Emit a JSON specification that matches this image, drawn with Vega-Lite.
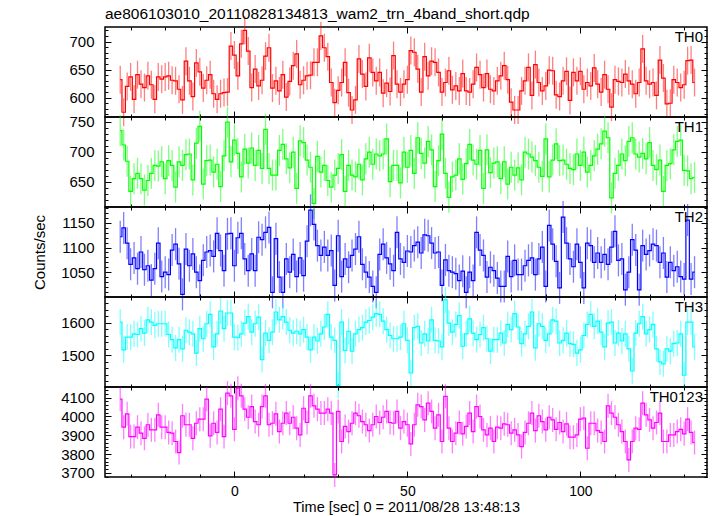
{
"$schema": "https://vega.github.io/schema/vega-lite/v6.json",
"padding": {"left": 31, "top": 6, "right": 9, "bottom": 1},
"background": "white",
"spacing": 0,
"bounds": "flush",
"data": {"values": [
{"t":-33,"a":632,"b":735,"c":1122,"d":1602,"e":4092},
{"t":-32,"a":574,"b":711,"c":1140,"d":1517,"e":3943},
{"t":-31,"a":620,"b":684,"c":1109,"d":1556,"e":4014},
{"t":-30,"a":637,"b":634,"c":1066,"d":1556,"e":3893},
{"t":-29,"a":597,"b":655,"c":1079,"d":1566,"e":3893},
{"t":-28,"a":641,"b":664,"c":1057,"d":1564,"e":3943},
{"t":-27,"a":624,"b":655,"c":1091,"d":1582,"e":3911},
{"t":-26,"a":618,"b":636,"c":1055,"d":1568,"e":3884},
{"t":-25,"a":639,"b":652,"c":1063,"d":1609,"e":3956},
{"t":-24,"a":623,"b":664,"c":1034,"d":1602,"e":3929},
{"t":-23,"a":597,"b":677,"c":1057,"d":1592,"e":3929},
{"t":-22,"a":637,"b":676,"c":1109,"d":1597,"e":4009},
{"t":-21,"a":633,"b":683,"c":1041,"d":1597,"e":3943},
{"t":-20,"a":637,"b":655,"c":1050,"d":1597,"e":3943},
{"t":-19,"a":639,"b":685,"c":1045,"d":1564,"e":3915},
{"t":-18,"a":631,"b":677,"c":1095,"d":1548,"e":3911},
{"t":-17,"a":630,"b":641,"c":1107,"d":1523,"e":3867},
{"t":-16,"a":615,"b":683,"c":1067,"d":1548,"e":3808},
{"t":-15,"a":596,"b":677,"c":1005,"d":1520,"e":4004},
{"t":-14,"a":665,"b":695,"c":1097,"d":1577,"e":3956},
{"t":-13,"a":630,"b":696,"c":1063,"d":1571,"e":3956},
{"t":-12,"a":602,"b":653,"c":1087,"d":1566,"e":3884},
{"t":-11,"a":662,"b":714,"c":1050,"d":1507,"e":3964},
{"t":-10,"a":646,"b":742,"c":1033,"d":1582,"e":3986},
{"t":-9,"a":617,"b":646,"c":1074,"d":1551,"e":3986},
{"t":-8,"a":631,"b":685,"c":1091,"d":1597,"e":4092},
{"t":-7,"a":641,"b":686,"c":1094,"d":1626,"e":3897},
{"t":-6,"a":607,"b":666,"c":1082,"d":1526,"e":3964},
{"t":-5,"a":597,"b":679,"c":1129,"d":1566,"e":3915},
{"t":-4,"a":607,"b":642,"c":1094,"d":1636,"e":4039},
{"t":-3,"a":609,"b":693,"c":1053,"d":1582,"e":3893},
{"t":-2,"a":610,"b":749,"c":1128,"d":1630,"e":4124},
{"t":-1,"a":692,"b":683,"c":1129,"d":1630,"e":4110},
{"t":0,"a":676,"b":719,"c":1063,"d":1556,"e":3932},
{"t":1,"a":639,"b":697,"c":1120,"d":1554,"e":4151},
{"t":2,"a":696,"b":658,"c":1129,"d":1566,"e":4110},
{"t":3,"a":720,"b":704,"c":1077,"d":1599,"e":4039},
{"t":4,"a":683,"b":681,"c":1053,"d":1619,"e":3996},
{"t":5,"a":618,"b":706,"c":1087,"d":1571,"e":4053},
{"t":6,"a":651,"b":677,"c":1053,"d":1597,"e":3973},
{"t":7,"a":621,"b":702,"c":1121,"d":1617,"e":3956},
{"t":8,"a":631,"b":672,"c":1116,"d":1487,"e":4053},
{"t":9,"a":674,"b":737,"c":1131,"d":1568,"e":4110},
{"t":10,"a":689,"b":672,"c":1141,"d":1546,"e":3956},
{"t":11,"a":617,"b":661,"c":1009,"d":1571,"e":3964},
{"t":12,"a":630,"b":661,"c":1118,"d":1633,"e":4014},
{"t":13,"a":612,"b":702,"c":1040,"d":1609,"e":3920},
{"t":14,"a":641,"b":712,"c":1009,"d":1619,"e":3964},
{"t":15,"a":601,"b":688,"c":1077,"d":1602,"e":4018},
{"t":16,"a":629,"b":673,"c":1050,"d":1577,"e":3964},
{"t":17,"a":657,"b":699,"c":1086,"d":1568,"e":3996},
{"t":18,"a":678,"b":639,"c":1041,"d":1574,"e":3938},
{"t":19,"a":623,"b":718,"c":1079,"d":1566,"e":3902},
{"t":20,"a":631,"b":715,"c":1043,"d":1579,"e":4044},
{"t":21,"a":639,"b":686,"c":1113,"d":1556,"e":3968},
{"t":22,"a":640,"b":674,"c":1176,"d":1517,"e":4110},
{"t":23,"a":663,"b":614,"c":1147,"d":1556,"e":4057},
{"t":24,"a":663,"b":692,"c":1104,"d":1544,"e":4039},
{"t":25,"a":710,"b":666,"c":1084,"d":1566,"e":4018},
{"t":26,"a":689,"b":677,"c":1101,"d":1587,"e":4018},
{"t":27,"a":673,"b":652,"c":1084,"d":1626,"e":4039},
{"t":28,"a":627,"b":641,"c":1094,"d":1556,"e":4018},
{"t":29,"a":591,"b":661,"c":1023,"d":1546,"e":3689},
{"t":30,"a":613,"b":672,"c":1124,"d":1408,"e":4027},
{"t":31,"a":627,"b":695,"c":1041,"d":1602,"e":3867},
{"t":32,"a":663,"b":634,"c":1077,"d":1515,"e":3947},
{"t":33,"a":609,"b":677,"c":1060,"d":1574,"e":3920},
{"t":34,"a":578,"b":661,"c":1084,"d":1513,"e":3964},
{"t":35,"a":596,"b":658,"c":1097,"d":1566,"e":4018},
{"t":36,"a":669,"b":679,"c":1122,"d":1579,"e":4004},
{"t":37,"a":642,"b":653,"c":1066,"d":1585,"e":3973},
{"t":38,"a":620,"b":688,"c":1050,"d":1602,"e":3956},
{"t":39,"a":671,"b":699,"c":1040,"d":1607,"e":3925},
{"t":40,"a":645,"b":679,"c":1021,"d":1617,"e":3956},
{"t":41,"a":630,"b":696,"c":1009,"d":1628,"e":4000},
{"t":42,"a":645,"b":693,"c":1086,"d":1626,"e":3968},
{"t":43,"a":608,"b":696,"c":1107,"d":1605,"e":3996},
{"t":44,"a":626,"b":721,"c":1079,"d":1579,"e":4027},
{"t":45,"a":611,"b":650,"c":1067,"d":1561,"e":3968},
{"t":46,"a":675,"b":677,"c":1053,"d":1551,"e":3964},
{"t":47,"a":624,"b":677,"c":1131,"d":1551,"e":4027},
{"t":48,"a":610,"b":648,"c":1077,"d":1556,"e":3938},
{"t":49,"a":624,"b":699,"c":1070,"d":1597,"e":3973},
{"t":50,"a":632,"b":674,"c":1093,"d":1546,"e":3956},
{"t":51,"a":684,"b":702,"c":1091,"d":1446,"e":3854},
{"t":52,"a":681,"b":664,"c":1104,"d":1585,"e":3956},
{"t":53,"a":651,"b":723,"c":1111,"d":1589,"e":4062},
{"t":54,"a":610,"b":697,"c":1089,"d":1538,"e":4053},
{"t":55,"a":673,"b":681,"c":1126,"d":1566,"e":3982},
{"t":56,"a":639,"b":717,"c":1124,"d":1544,"e":4071},
{"t":57,"a":665,"b":703,"c":1109,"d":1609,"e":4027},
{"t":58,"a":663,"b":642,"c":1089,"d":1546,"e":3938},
{"t":59,"a":645,"b":685,"c":1091,"d":1544,"e":4009},
{"t":60,"a":610,"b":729,"c":1023,"d":1526,"e":3867},
{"t":61,"a":627,"b":664,"c":1075,"d":1670,"e":4107},
{"t":62,"a":648,"b":624,"c":1053,"d":1599,"e":3938},
{"t":63,"a":614,"b":658,"c":1050,"d":1571,"e":3867},
{"t":64,"a":621,"b":661,"c":1047,"d":1595,"e":3911},
{"t":65,"a":612,"b":688,"c":1033,"d":1622,"e":3968},
{"t":66,"a":643,"b":654,"c":1052,"d":1528,"e":3908},
{"t":67,"a":612,"b":680,"c":1009,"d":1566,"e":3947},
{"t":68,"a":610,"b":712,"c":1050,"d":1612,"e":4018},
{"t":69,"a":624,"b":686,"c":1033,"d":1568,"e":3920},
{"t":70,"a":654,"b":679,"c":1131,"d":1548,"e":4053},
{"t":71,"a":641,"b":702,"c":1095,"d":1564,"e":4000},
{"t":72,"a":618,"b":639,"c":1084,"d":1585,"e":3929},
{"t":73,"a":643,"b":703,"c":1040,"d":1551,"e":3902},
{"t":74,"a":615,"b":665,"c":1060,"d":1513,"e":3938},
{"t":75,"a":612,"b":681,"c":1053,"d":1548,"e":3867},
{"t":76,"a":630,"b":683,"c":1038,"d":1548,"e":3943},
{"t":77,"a":639,"b":655,"c":1021,"d":1568,"e":3938},
{"t":78,"a":657,"b":683,"c":1021,"d":1538,"e":3961},
{"t":79,"a":632,"b":646,"c":1082,"d":1595,"e":3956},
{"t":80,"a":592,"b":674,"c":1041,"d":1579,"e":3911},
{"t":81,"a":578,"b":661,"c":1074,"d":1628,"e":3929},
{"t":82,"a":578,"b":673,"c":1045,"d":1587,"e":3902},
{"t":83,"a":612,"b":653,"c":1045,"d":1536,"e":3840},
{"t":84,"a":630,"b":699,"c":1063,"d":1566,"e":3915},
{"t":85,"a":654,"b":696,"c":1074,"d":1589,"e":3964},
{"t":86,"a":604,"b":691,"c":1079,"d":1633,"e":4018},
{"t":87,"a":659,"b":685,"c":1045,"d":1523,"e":3925},
{"t":88,"a":627,"b":674,"c":1077,"d":1597,"e":4004},
{"t":89,"a":612,"b":659,"c":1101,"d":1589,"e":3973},
{"t":90,"a":621,"b":721,"c":1021,"d":1546,"e":3929},
{"t":91,"a":649,"b":658,"c":1145,"d":1566,"e":3996},
{"t":92,"a":648,"b":686,"c":1107,"d":1609,"e":3982},
{"t":93,"a":605,"b":713,"c":1072,"d":1605,"e":3932},
{"t":94,"a":602,"b":685,"c":1018,"d":1538,"e":3968},
{"t":95,"a":630,"b":686,"c":1162,"d":1546,"e":3920},
{"t":96,"a":647,"b":679,"c":1109,"d":1568,"e":3961},
{"t":97,"a":595,"b":672,"c":1077,"d":1536,"e":3890},
{"t":98,"a":645,"b":670,"c":1061,"d":1534,"e":3890},
{"t":99,"a":630,"b":696,"c":1107,"d":1507,"e":3902},
{"t":100,"a":647,"b":677,"c":1070,"d":1517,"e":3986},
{"t":101,"a":615,"b":699,"c":1018,"d":1561,"e":3991},
{"t":102,"a":627,"b":666,"c":1109,"d":1595,"e":3831},
{"t":103,"a":621,"b":677,"c":1104,"d":1626,"e":3964},
{"t":104,"a":653,"b":693,"c":1070,"d":1589,"e":3964},
{"t":105,"a":624,"b":704,"c":1089,"d":1605,"e":3925},
{"t":106,"a":610,"b":713,"c":1070,"d":1571,"e":3915},
{"t":107,"a":641,"b":734,"c":1086,"d":1526,"e":3867},
{"t":108,"a":615,"b":723,"c":1066,"d":1599,"e":4057},
{"t":109,"a":583,"b":623,"c":1101,"d":1602,"e":4018},
{"t":110,"a":632,"b":664,"c":1133,"d":1538,"e":3996},
{"t":111,"a":629,"b":677,"c":1074,"d":1568,"e":3956},
{"t":112,"a":627,"b":696,"c":1077,"d":1544,"e":3920},
{"t":113,"a":642,"b":685,"c":1014,"d":1566,"e":3867},
{"t":114,"a":630,"b":717,"c":1050,"d":1520,"e":3769},
{"t":115,"a":624,"b":723,"c":1116,"d":1452,"e":3867},
{"t":116,"a":607,"b":696,"c":1095,"d":1568,"e":3938},
{"t":117,"a":627,"b":691,"c":1014,"d":1597,"e":3932},
{"t":118,"a":687,"b":697,"c":1104,"d":1619,"e":4071},
{"t":119,"a":630,"b":688,"c":1086,"d":1566,"e":4009},
{"t":120,"a":624,"b":715,"c":1094,"d":1579,"e":3982},
{"t":121,"a":627,"b":677,"c":1107,"d":1595,"e":3938},
{"t":122,"a":604,"b":670,"c":1104,"d":1520,"e":3968},
{"t":123,"a":667,"b":686,"c":1070,"d":1480,"e":4018},
{"t":124,"a":635,"b":634,"c":1089,"d":1474,"e":3867},
{"t":125,"a":589,"b":677,"c":1040,"d":1520,"e":3867},
{"t":126,"a":590,"b":680,"c":1070,"d":1513,"e":3902},
{"t":127,"a":632,"b":703,"c":1053,"d":1536,"e":3902},
{"t":128,"a":627,"b":717,"c":1061,"d":1538,"e":3920},
{"t":129,"a":618,"b":719,"c":1041,"d":1566,"e":3932},
{"t":130,"a":623,"b":669,"c":1036,"d":1439,"e":3908},
{"t":131,"a":666,"b":668,"c":1156,"d":1602,"e":3986},
{"t":132,"a":667,"b":655,"c":1036,"d":1602,"e":3915},
{"t":133,"a":627,"b":657,"c":1050,"d":1526,"e":3861}
]},
"config": {
  "font": "Liberation Sans",
  "view": {"stroke": "#000", "strokeWidth": 1.5},
  "axis": {"domain": false, "grid": false, "tickColor": "#000", "tickWidth": 1, "labelFont": "Liberation Sans", "labelFontSize": 15, "labelColor": "#000", "titleFont": "Liberation Sans", "titleFontSize": 15, "titleFontWeight": "normal", "titleColor": "#000", "labelOverlap": false, "labelBound": false, "labelFlush": false}
},
"vconcat": [
{
 "width": 602, "height": 90,
 "title": {"text": "ae806103010_20110828134813_wam2_trn_4band_short.qdp", "anchor": "start", "frame": "group", "fontSize": 15.5, "fontWeight": "normal", "font": "Liberation Sans", "color": "#000", "offset": -6},
 "layer": [
  {"mark": {"type": "tick", "orient": "vertical", "color": "#ff0000", "opacity": 0.5, "size": 28, "thickness": 1.3},
   "encoding": {
    "x": {"field": "t", "type": "quantitative", "scale": {"domain": [-37.4, 136.6], "nice": false, "zero": false}, "axis": {"orient": "bottom", "values": [-30,-20,-10,10,20,30,40,60,70,80,90,110,120,130], "tickSize": -3, "labels": false, "title": null}},
    "y": {"field": "a", "type": "quantitative", "scale": {"domain": [565.5, 726], "nice": false, "zero": false}, "axis": {"orient": "left", "values": [570,580,590,610,620,630,640,660,670,680,690,710,720], "tickSize": -3, "labels": false, "title": null}}
   }},
  {"mark": {"type": "line", "interpolate": "step", "color": "#ff0000", "strokeWidth": 1.2},
   "encoding": {
    "x": {"field": "t", "type": "quantitative", "scale": {"domain": [-37.4, 136.6], "nice": false, "zero": false}, "axis": {"orient": "top", "values": [-30,-20,-10,10,20,30,40,60,70,80,90,110,120,130], "tickSize": -3, "labels": false, "title": null}},
    "y": {"field": "a", "type": "quantitative", "scale": {"domain": [565.5, 726], "nice": false, "zero": false}, "axis": {"orient": "right", "values": [570,580,590,610,620,630,640,660,670,680,690,710,720], "tickSize": -3, "labels": false, "title": null}}
   }},
  {"mark": {"type": "line", "opacity": 0},
   "encoding": {
    "x": {"field": "t", "type": "quantitative", "scale": {"domain": [-37.4, 136.6], "nice": false, "zero": false}, "axis": {"orient": "bottom", "values": [0,50,100], "tickSize": -6, "labels": false, "title": null}},
    "y": {"field": "a", "type": "quantitative", "scale": {"domain": [565.5, 726], "nice": false, "zero": false}, "axis": {"orient": "left", "values": [600,650,700], "format": "d", "tickSize": -6, "labelPadding": 17, "title": null}}
   }},
  {"mark": {"type": "line", "opacity": 0},
   "encoding": {
    "x": {"field": "t", "type": "quantitative", "scale": {"domain": [-37.4, 136.6], "nice": false, "zero": false}, "axis": {"orient": "top", "values": [0,50,100], "tickSize": -6, "labels": false, "title": null}},
    "y": {"field": "a", "type": "quantitative", "scale": {"domain": [565.5, 726], "nice": false, "zero": false}, "axis": {"orient": "right", "values": [600,650,700], "tickSize": -6, "labels": false, "title": null}}
   }},
  {"data": {"values": [{}]},
   "mark": {"type": "text", "text": "TH0", "align": "right", "baseline": "top", "fontSize": 15, "dx": -4, "dy": 3, "color": "#000"},
   "encoding": {"x": {"datum": 136.6, "type": "quantitative", "axis": null}, "y": {"datum": 726, "type": "quantitative", "axis": null}}}
 ],
 "resolve": {"axis": {"x": "independent", "y": "independent"}}
},
{
 "width": 602, "height": 90,
 "layer": [
  {"mark": {"type": "tick", "orient": "vertical", "color": "#00ff00", "opacity": 0.5, "size": 31, "thickness": 1.3},
   "encoding": {
    "x": {"field": "t", "type": "quantitative", "scale": {"domain": [-37.4, 136.6], "nice": false, "zero": false}, "axis": {"orient": "bottom", "values": [-30,-20,-10,10,20,30,40,60,70,80,90,110,120,130], "tickSize": -3, "labels": false, "title": null}},
    "y": {"field": "b", "type": "quantitative", "scale": {"domain": [608, 757.5], "nice": false, "zero": false}, "axis": {"orient": "left", "values": [610,620,630,640,660,670,680,690,710,720,730,740], "tickSize": -3, "labels": false, "title": null}}
   }},
  {"mark": {"type": "line", "interpolate": "step", "color": "#00ff00", "strokeWidth": 1.2},
   "encoding": {
    "x": {"field": "t", "type": "quantitative", "scale": {"domain": [-37.4, 136.6], "nice": false, "zero": false}, "axis": {"orient": "top", "values": [-30,-20,-10,10,20,30,40,60,70,80,90,110,120,130], "tickSize": -3, "labels": false, "title": null}},
    "y": {"field": "b", "type": "quantitative", "scale": {"domain": [608, 757.5], "nice": false, "zero": false}, "axis": {"orient": "right", "values": [610,620,630,640,660,670,680,690,710,720,730,740], "tickSize": -3, "labels": false, "title": null}}
   }},
  {"mark": {"type": "line", "opacity": 0},
   "encoding": {
    "x": {"field": "t", "type": "quantitative", "scale": {"domain": [-37.4, 136.6], "nice": false, "zero": false}, "axis": {"orient": "bottom", "values": [0,50,100], "tickSize": -6, "labels": false, "title": null}},
    "y": {"field": "b", "type": "quantitative", "scale": {"domain": [608, 757.5], "nice": false, "zero": false}, "axis": {"orient": "left", "values": [650,700,750], "format": "d", "tickSize": -6, "labelPadding": 17, "title": null}}
   }},
  {"mark": {"type": "line", "opacity": 0},
   "encoding": {
    "x": {"field": "t", "type": "quantitative", "scale": {"domain": [-37.4, 136.6], "nice": false, "zero": false}, "axis": {"orient": "top", "values": [0,50,100], "tickSize": -6, "labels": false, "title": null}},
    "y": {"field": "b", "type": "quantitative", "scale": {"domain": [608, 757.5], "nice": false, "zero": false}, "axis": {"orient": "right", "values": [650,700,750], "tickSize": -6, "labels": false, "title": null}}
   }},
  {"data": {"values": [{}]},
   "mark": {"type": "text", "text": "TH1", "align": "right", "baseline": "top", "fontSize": 15, "dx": -4, "dy": 3, "color": "#000"},
   "encoding": {"x": {"datum": 136.6, "type": "quantitative", "axis": null}, "y": {"datum": 757.5, "type": "quantitative", "axis": null}}}
 ],
 "resolve": {"axis": {"x": "independent", "y": "independent"}}
},
{
 "width": 602, "height": 90,
 "layer": [
  {"mark": {"type": "tick", "orient": "vertical", "color": "#0000ff", "opacity": 0.5, "size": 32, "thickness": 1.3},
   "encoding": {
    "x": {"field": "t", "type": "quantitative", "scale": {"domain": [-37.4, 136.6], "nice": false, "zero": false}, "axis": {"orient": "bottom", "values": [-30,-20,-10,10,20,30,40,60,70,80,90,110,120,130], "tickSize": -3, "labels": false, "title": null}},
    "y": {"field": "c", "type": "quantitative", "scale": {"domain": [999.5, 1182.5], "nice": false, "zero": false}, "axis": {"orient": "left", "values": [1010,1020,1030,1040,1060,1070,1080,1090,1110,1120,1130,1140,1160,1170,1180], "tickSize": -3, "labels": false, "title": null}}
   }},
  {"mark": {"type": "line", "interpolate": "step", "color": "#0000ff", "strokeWidth": 1.2},
   "encoding": {
    "x": {"field": "t", "type": "quantitative", "scale": {"domain": [-37.4, 136.6], "nice": false, "zero": false}, "axis": {"orient": "top", "values": [-30,-20,-10,10,20,30,40,60,70,80,90,110,120,130], "tickSize": -3, "labels": false, "title": null}},
    "y": {"field": "c", "type": "quantitative", "scale": {"domain": [999.5, 1182.5], "nice": false, "zero": false}, "axis": {"orient": "right", "values": [1010,1020,1030,1040,1060,1070,1080,1090,1110,1120,1130,1140,1160,1170,1180], "tickSize": -3, "labels": false, "title": null}}
   }},
  {"mark": {"type": "line", "opacity": 0},
   "encoding": {
    "x": {"field": "t", "type": "quantitative", "scale": {"domain": [-37.4, 136.6], "nice": false, "zero": false}, "axis": {"orient": "bottom", "values": [0,50,100], "tickSize": -6, "labels": false, "title": null}},
    "y": {"field": "c", "type": "quantitative", "scale": {"domain": [999.5, 1182.5], "nice": false, "zero": false}, "axis": {"orient": "left", "values": [1050,1100,1150], "format": "d", "tickSize": -6, "labelPadding": 17, "title": "Counts/sec", "titlePadding": 13}}
   }},
  {"mark": {"type": "line", "opacity": 0},
   "encoding": {
    "x": {"field": "t", "type": "quantitative", "scale": {"domain": [-37.4, 136.6], "nice": false, "zero": false}, "axis": {"orient": "top", "values": [0,50,100], "tickSize": -6, "labels": false, "title": null}},
    "y": {"field": "c", "type": "quantitative", "scale": {"domain": [999.5, 1182.5], "nice": false, "zero": false}, "axis": {"orient": "right", "values": [1050,1100,1150], "tickSize": -6, "labels": false, "title": null}}
   }},
  {"data": {"values": [{}]},
   "mark": {"type": "text", "text": "TH2", "align": "right", "baseline": "top", "fontSize": 15, "dx": -4, "dy": 3, "color": "#000"},
   "encoding": {"x": {"datum": 136.6, "type": "quantitative", "axis": null}, "y": {"datum": 1182.5, "type": "quantitative", "axis": null}}}
 ],
 "resolve": {"axis": {"x": "independent", "y": "independent"}}
},
{
 "width": 602, "height": 90,
 "layer": [
  {"mark": {"type": "tick", "orient": "vertical", "color": "#00ffff", "opacity": 0.5, "size": 26, "thickness": 1.3},
   "encoding": {
    "x": {"field": "t", "type": "quantitative", "scale": {"domain": [-37.4, 136.6], "nice": false, "zero": false}, "axis": {"orient": "bottom", "values": [-30,-20,-10,10,20,30,40,60,70,80,90,110,120,130], "tickSize": -3, "labels": false, "title": null}},
    "y": {"field": "d", "type": "quantitative", "scale": {"domain": [1403, 1679], "nice": false, "zero": false}, "axis": {"orient": "left", "values": [1420,1440,1460,1480,1520,1540,1560,1580,1620,1640,1660], "tickSize": -3, "labels": false, "title": null}}
   }},
  {"mark": {"type": "line", "interpolate": "step", "color": "#00ffff", "strokeWidth": 1.2},
   "encoding": {
    "x": {"field": "t", "type": "quantitative", "scale": {"domain": [-37.4, 136.6], "nice": false, "zero": false}, "axis": {"orient": "top", "values": [-30,-20,-10,10,20,30,40,60,70,80,90,110,120,130], "tickSize": -3, "labels": false, "title": null}},
    "y": {"field": "d", "type": "quantitative", "scale": {"domain": [1403, 1679], "nice": false, "zero": false}, "axis": {"orient": "right", "values": [1420,1440,1460,1480,1520,1540,1560,1580,1620,1640,1660], "tickSize": -3, "labels": false, "title": null}}
   }},
  {"mark": {"type": "line", "opacity": 0},
   "encoding": {
    "x": {"field": "t", "type": "quantitative", "scale": {"domain": [-37.4, 136.6], "nice": false, "zero": false}, "axis": {"orient": "bottom", "values": [0,50,100], "tickSize": -6, "labels": false, "title": null}},
    "y": {"field": "d", "type": "quantitative", "scale": {"domain": [1403, 1679], "nice": false, "zero": false}, "axis": {"orient": "left", "values": [1500,1600], "format": "d", "tickSize": -6, "labelPadding": 17, "title": null}}
   }},
  {"mark": {"type": "line", "opacity": 0},
   "encoding": {
    "x": {"field": "t", "type": "quantitative", "scale": {"domain": [-37.4, 136.6], "nice": false, "zero": false}, "axis": {"orient": "top", "values": [0,50,100], "tickSize": -6, "labels": false, "title": null}},
    "y": {"field": "d", "type": "quantitative", "scale": {"domain": [1403, 1679], "nice": false, "zero": false}, "axis": {"orient": "right", "values": [1500,1600], "tickSize": -6, "labels": false, "title": null}}
   }},
  {"data": {"values": [{}]},
   "mark": {"type": "text", "text": "TH3", "align": "right", "baseline": "top", "fontSize": 15, "dx": -4, "dy": 3, "color": "#000"},
   "encoding": {"x": {"datum": 136.6, "type": "quantitative", "axis": null}, "y": {"datum": 1679, "type": "quantitative", "axis": null}}}
 ],
 "resolve": {"axis": {"x": "independent", "y": "independent"}}
},
{
 "width": 602, "height": 90,
 "layer": [
  {"mark": {"type": "tick", "orient": "vertical", "color": "#ff00ff", "opacity": 0.5, "size": 24, "thickness": 1.3},
   "encoding": {
    "x": {"field": "t", "type": "quantitative", "scale": {"domain": [-37.4, 136.6], "nice": false, "zero": false}, "axis": {"orient": "bottom", "values": [-30,-20,-10,10,20,30,40,60,70,80,90,110,120,130], "tickSize": -3, "labels": false, "title": null}},
    "y": {"field": "e", "type": "quantitative", "scale": {"domain": [3678, 4157], "nice": false, "zero": false}, "axis": {"orient": "left", "values": [3680,3720,3740,3760,3780,3820,3840,3860,3880,3920,3940,3960,3980,4020,4040,4060,4080,4120,4140], "tickSize": -3, "labels": false, "title": null}}
   }},
  {"mark": {"type": "line", "interpolate": "step", "color": "#ff00ff", "strokeWidth": 1.2},
   "encoding": {
    "x": {"field": "t", "type": "quantitative", "scale": {"domain": [-37.4, 136.6], "nice": false, "zero": false}, "axis": {"orient": "top", "values": [-30,-20,-10,10,20,30,40,60,70,80,90,110,120,130], "tickSize": -3, "labels": false, "title": null}},
    "y": {"field": "e", "type": "quantitative", "scale": {"domain": [3678, 4157], "nice": false, "zero": false}, "axis": {"orient": "right", "values": [3680,3720,3740,3760,3780,3820,3840,3860,3880,3920,3940,3960,3980,4020,4040,4060,4080,4120,4140], "tickSize": -3, "labels": false, "title": null}}
   }},
  {"mark": {"type": "line", "opacity": 0},
   "encoding": {
    "x": {"field": "t", "type": "quantitative", "scale": {"domain": [-37.4, 136.6], "nice": false, "zero": false}, "axis": {"orient": "bottom", "values": [0,50,100], "tickSize": -6, "labelPadding": 13, "labelFontSize": 14, "title": "Time [sec] 0 = 2011/08/28 13:48:13", "titleFontSize": 14.5, "titlePadding": 2}},
    "y": {"field": "e", "type": "quantitative", "scale": {"domain": [3678, 4157], "nice": false, "zero": false}, "axis": {"orient": "left", "values": [3700,3800,3900,4000,4100], "format": "d", "tickSize": -6, "labelPadding": 17, "title": null}}
   }},
  {"mark": {"type": "line", "opacity": 0},
   "encoding": {
    "x": {"field": "t", "type": "quantitative", "scale": {"domain": [-37.4, 136.6], "nice": false, "zero": false}, "axis": {"orient": "top", "values": [0,50,100], "tickSize": -6, "labels": false, "title": null}},
    "y": {"field": "e", "type": "quantitative", "scale": {"domain": [3678, 4157], "nice": false, "zero": false}, "axis": {"orient": "right", "values": [3700,3800,3900,4000,4100], "tickSize": -6, "labels": false, "title": null}}
   }},
  {"data": {"values": [{}]},
   "mark": {"type": "text", "text": "TH0123", "align": "right", "baseline": "top", "fontSize": 15, "dx": -4, "dy": 3, "color": "#000"},
   "encoding": {"x": {"datum": 136.6, "type": "quantitative", "axis": null}, "y": {"datum": 4157, "type": "quantitative", "axis": null}}}
 ],
 "resolve": {"axis": {"x": "independent", "y": "independent"}}
}
]
}
